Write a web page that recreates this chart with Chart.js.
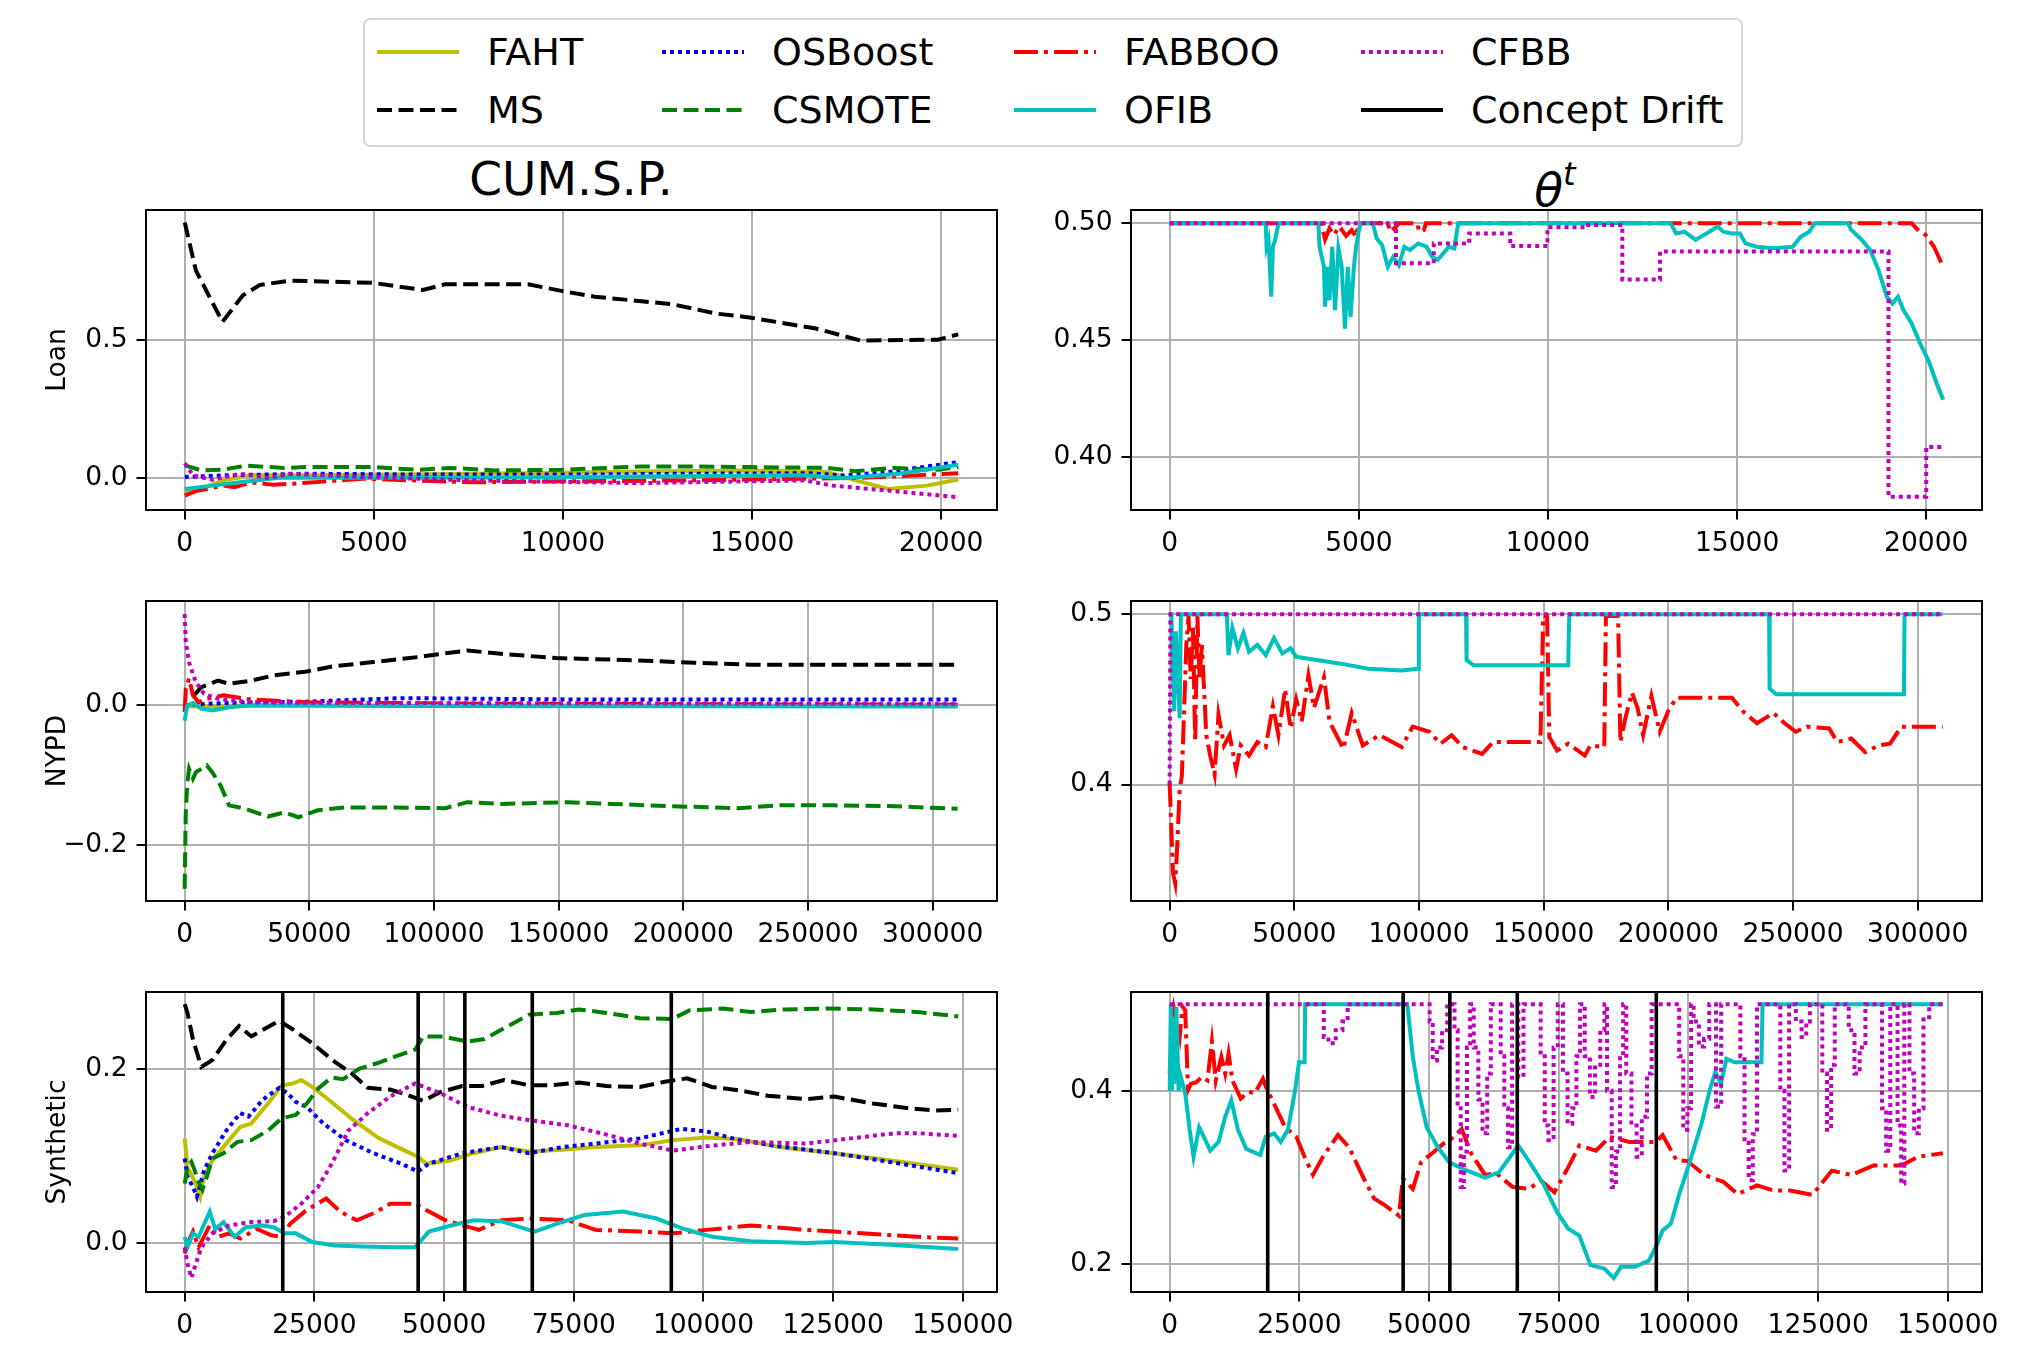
<!DOCTYPE html>
<html>
<head>
<meta charset="utf-8">
<script src="https://cdn.jsdelivr.net/npm/chart.js"></script>
<style>
  body { margin: 0; background: #fff; width: 2020px; height: 1359px; position: relative; overflow: hidden;
         font-family: "DejaVu Sans", sans-serif; }
  canvas { position: absolute; }
  .legend { position: absolute; left: 363px; top: 18px; width: 1376px; height: 125px;
            border: 2px solid #d6d6d6; border-radius: 7px; }
  .item { position: absolute; height: 40px; font-size: 38px; line-height: 40px; white-space: nowrap; }
  .item svg { position: absolute; left: 0; top: 15px; }
  .item span { position: absolute; }
  .title { position: absolute; top: 155px; font-size: 47px; line-height: 47px; white-space: nowrap;
           transform: translateX(-50%); }
</style>
</head>
<body>
<div class="legend" id="legend"></div>
<div class="title" style="left:571px">CUM.S.P.</div>
<div class="title" style="left:1555px"><i>θ</i><sup style="font-size:32px;position:relative;top:-4px"><i>t</i></sup></div>
<canvas id="c1"></canvas>
<canvas id="c2"></canvas>
<canvas id="c3"></canvas>
<canvas id="c4"></canvas>
<canvas id="c5"></canvas>
<canvas id="c6"></canvas>
<script>
// ---- tick labels ----
const loanTicksX = [0, 5000, 10000, 15000, 20000];
const nypdTicksX = [0, 50000, 100000, 150000, 200000, 250000, 300000];
const synthTicksX = [0, 25000, 50000, 75000, 100000, 125000, 150000];
const loanCumTicksY = [0.0, 0.5];
const loanThTicksY = [0.40, 0.45, 0.50];
const nypdCumTicksY = [-0.2, 0.0];
const nypdThTicksY = [0.4, 0.5];
const synthCumTicksY = [0.0, 0.2];
const synthThTicksY = [0.2, 0.4];

const driftPoints = [18900, 45000, 54000, 67000, 93800];

// ---- Loan, CUM.S.P. ----
const loanCumFAHT = [[0,-0.05],[293,-0.045],[1025,-0.008],[1757,0.01],[3221,0.01],[7613,0.016],[9077,0.018],[12006,0.024],[14934,0.028],[16983,0.022],[17569,-0.002],[18594,-0.039],[19619,-0.027],[20450,-0.005]];
const loanCumMS = [[0,0.923],[293,0.75],[996,0.564],[1537,0.66],[1977,0.697],[2782,0.713],[4978,0.705],[6296,0.679],[6881,0.70],[9077,0.70],[9956,0.676],[10834,0.655],[12884,0.628],[14055,0.594],[14934,0.58],[16691,0.54],[17862,0.497],[19912,0.5],[20450,0.519]];
const loanCumOSBoost = [[0,0.004],[1025,0.01],[3221,0.016],[6149,0.013],[10542,0.013],[13470,0.016],[16398,0.018],[17423,0.01],[18594,0.022],[19619,0.042],[20450,0.058]];
const loanCumCSMOTE = [[0,0.046],[439,0.028],[1025,0.031],[1610,0.045],[2635,0.037],[3221,0.04],[4978,0.04],[6149,0.03],[7028,0.037],[8199,0.028],[9956,0.03],[12006,0.042],[13470,0.042],[14934,0.04],[16983,0.037],[17716,0.025],[18740,0.037],[19912,0.03],[20450,0.04]];
const loanCumFABBOO = [[0,-0.063],[293,-0.047],[1025,-0.027],[1318,-0.033],[1757,-0.015],[2343,-0.024],[3221,-0.017],[4685,-0.002],[7613,-0.015],[10542,-0.011],[13470,-0.008],[16398,-0.002],[17862,0.001],[19326,0.01],[20450,0.018]];
const loanCumOFIB = [[0,-0.039],[732,-0.027],[1464,-0.015],[2489,0.001],[7613,0.001],[12006,0.006],[16398,0.01],[17423,0.0],[18887,0.016],[20450,0.048]];
const loanCumCFBB = [[0,0.054],[220,0.01],[732,-0.006],[1464,0.016],[2196,0.001],[2782,0.016],[4685,0.004],[7613,-0.008],[12006,-0.018],[16398,-0.008],[17130,-0.027],[18594,-0.045],[20450,-0.069]];

// ---- Loan, theta ----
const loanThFABBOO = [[0,0.5],[4003,0.5],[4106,0.4931],[4223,0.4979],[4340,0.495],[4487,0.4986],[4663,0.4946],[4809,0.4971],[4927,0.4943],[4985,0.5],[5763,0.5],[5836,0.4964],[5982,0.4986],[6056,0.5],[6540,0.5],[6598,0.4964],[6716,0.4971],[6774,0.5],[19619,0.5],[19766,0.4974],[19986,0.495],[20205,0.49],[20450,0.4814]];
const loanThOFIB = [[0,0.5],[2537,0.5],[2560,0.49],[2610,0.4929],[2683,0.4686],[2727,0.49],[2786,0.4929],[2874,0.5],[3930,0.5],[3959,0.49],[4076,0.4814],[4106,0.4643],[4164,0.4814],[4223,0.4671],[4296,0.49],[4370,0.4629],[4458,0.4893],[4546,0.4814],[4633,0.455],[4707,0.4814],[4780,0.46],[4868,0.4814],[4927,0.49],[4985,0.4957],[5044,0.5],[5367,0.5],[5469,0.4936],[5616,0.4907],[5763,0.4814],[5909,0.4857],[6056,0.4821],[6202,0.49],[6349,0.4886],[6569,0.4914],[6789,0.49],[6936,0.4857],[7082,0.4843],[7229,0.4871],[7376,0.49],[7522,0.4893],[7625,0.5],[13241,0.5],[13387,0.4957],[13607,0.4964],[13901,0.4929],[14194,0.4957],[14487,0.4986],[14634,0.4964],[14854,0.4957],[15074,0.4957],[15220,0.4914],[15514,0.49],[15953,0.4893],[16466,0.49],[16687,0.4943],[16907,0.4964],[17053,0.5],[17933,0.5],[18007,0.4974],[18299,0.4929],[18519,0.4886],[18739,0.48],[18959,0.4686],[19106,0.4657],[19253,0.4686],[19399,0.4629],[19619,0.4571],[19839,0.4486],[20059,0.4414],[20279,0.4314],[20450,0.4245]];
const loanThCFBB = [[0,0.5],[5982,0.4829],[6980,0.4914],[7918,0.4957],[9003,0.4903],[9985,0.4983],[10997,0.4993],[11965,0.476],[12962,0.4879],[19003,0.3831],[20000,0.4043],[20450,0.4043]];

// ---- NYPD, CUM.S.P. ----
const nypdCumFAHT = [[0,-0.002],[20000,-0.001],[310000,0.0]];
const nypdCumMS = [[4000,0.015],[6672,0.0257],[11120,0.0319],[13344,0.035],[17792,0.0305],[26688,0.035],[35584,0.0424],[48928,0.048],[60048,0.0557],[75616,0.0614],[93408,0.0685],[100080,0.0719],[113424,0.078],[126768,0.0733],[149008,0.0671],[182400,0.0638],[204608,0.0605],[226848,0.0576],[310000,0.0576]];
const nypdCumOSBoost = [[0,0.0],[15568,0.003],[48928,0.005],[86736,0.01],[160128,0.008],[310000,0.008]];
const nypdCumCSMOTE = [[0,-0.262],[445,-0.153],[1112,-0.11],[1779,-0.091],[3336,-0.105],[4448,-0.096],[6672,-0.091],[8896,-0.086],[11120,-0.096],[14456,-0.115],[17792,-0.143],[24464,-0.148],[33360,-0.159],[40032,-0.153],[45592,-0.16],[53376,-0.15],[64496,-0.146],[82288,-0.146],[104528,-0.147],[113424,-0.1385],[126768,-0.141],[153456,-0.1385],[171248,-0.141],[193488,-0.144],[222400,-0.147],[237968,-0.143],[260208,-0.143],[282448,-0.144],[310000,-0.148]];
const nypdCumFABBOO = [[0,-0.01],[445,0.023],[1779,0.038],[3336,0.014],[5560,0.004],[8896,0.009],[15568,0.014],[26688,0.008],[48928,0.004],[115648,0.002],[310000,0.0005]];
const nypdCumOFIB = [[0,-0.022],[1112,0.0],[3336,0.003],[6672,-0.005],[11120,-0.0076],[17792,-0.003],[26688,0.0],[93408,-0.0014],[310000,-0.002]];
const nypdCumCFBB = [[0,0.130],[445,0.09],[1779,0.061],[4448,0.033],[7784,0.016],[13344,0.009],[26688,0.004],[71168,0.003],[310000,0.002]];

// ---- NYPD, theta ----
const nypdThFABBOO = [[0,0.401],[668,0.374],[1336,0.348],[2226,0.342],[3116,0.366],[4007,0.397],[4897,0.405],[5787,0.443],[6678,0.482],[7568,0.499],[8459,0.462],[9349,0.492],[10240,0.425],[11130,0.499],[12020,0.462],[12911,0.482],[13801,0.456],[14692,0.429],[16250,0.417],[18031,0.406],[19589,0.441],[21815,0.423],[24041,0.429],[26668,0.409],[28494,0.423],[31833,0.417],[35173,0.425],[38512,0.422],[41406,0.446],[43632,0.429],[46303,0.456],[48529,0.433],[50755,0.45],[52982,0.437],[55653,0.464],[57879,0.445],[61886,0.463],[64112,0.437],[69677,0.421],[73015,0.442],[77469,0.423],[84147,0.429],[93050,0.422],[97502,0.434],[104180,0.431],[108632,0.424],[113084,0.429],[117536,0.422],[125327,0.418],[129779,0.425],[148699,0.425],[149812,0.499],[151370,0.499],[152260,0.428],[155376,0.42],[159828,0.424],[166506,0.417],[168732,0.423],[174298,0.422],[174966,0.499],[179863,0.499],[180753,0.425],[182757,0.439],[185428,0.454],[187654,0.445],[189880,0.429],[193219,0.452],[196558,0.431],[199898,0.443],[203237,0.451],[225497,0.451],[229949,0.443],[235514,0.436],[242192,0.442],[246644,0.436],[251096,0.431],[255548,0.434],[264452,0.433],[267791,0.425],[273356,0.427],[278921,0.419],[284486,0.423],[288938,0.424],[293390,0.434],[310000,0.434]];
const nypdThOFIB = [[0,0.5],[700,0.5],[1781,0.443],[2500,0.49],[4007,0.439],[4500,0.5],[22928,0.5],[23596,0.476],[25154,0.492],[27380,0.48],[29606,0.489],[31832,0.478],[35173,0.482],[38512,0.476],[41852,0.486],[45191,0.477],[48529,0.48],[50755,0.475],[59657,0.473],[68561,0.471],[79691,0.468],[93047,0.467],[99725,0.468],[99948,0.5],[118868,0.5],[119091,0.473],[121985,0.47],[159827,0.47],[160272,0.5],[240408,0.5],[240631,0.4563],[243302,0.453],[294500,0.453],[294723,0.5],[310000,0.5]];
const nypdThCFBB = [[0,0.4],[300,0.5],[310000,0.5]];

// ---- Synthetic, CUM.S.P. ----
const synthCumFAHT = [[0,0.12],[535,0.087],[2140,0.068],[2996,0.053],[3745,0.076],[5350,0.095],[8560,0.118],[10700,0.133],[12840,0.137],[16050,0.16],[18725,0.181],[20865,0.183],[22470,0.187],[24610,0.179],[27820,0.164],[32100,0.143],[37450,0.12],[41730,0.108],[44940,0.099],[46545,0.091],[51360,0.095],[55640,0.103],[60990,0.11],[66340,0.105],[72760,0.107],[79180,0.11],[87740,0.112],[94160,0.118],[100580,0.121],[107000,0.119],[114490,0.11],[125190,0.103],[135890,0.095],[149100,0.084]];
const synthCumMS = [[0,0.274],[535,0.264],[1605,0.233],[3210,0.202],[5350,0.21],[8025,0.233],[10486,0.249],[12840,0.237],[15515,0.246],[18190,0.255],[20865,0.245],[24610,0.229],[28890,0.208],[32100,0.195],[35310,0.178],[39590,0.176],[42800,0.17],[46010,0.163],[49220,0.173],[53500,0.18],[57245,0.18],[61525,0.187],[66340,0.181],[70620,0.181],[75970,0.184],[81320,0.18],[87740,0.179],[92555,0.185],[96835,0.189],[101650,0.179],[107000,0.175],[112350,0.169],[119840,0.165],[125190,0.168],[132680,0.16],[139100,0.155],[144450,0.152],[149100,0.153]];
const synthCumOSBoost = [[0,0.097],[535,0.076],[1605,0.064],[2354,0.053],[3745,0.083],[5350,0.103],[8025,0.129],[10700,0.149],[12305,0.145],[14980,0.164],[18190,0.178],[19795,0.172],[21400,0.162],[23540,0.156],[26750,0.137],[31030,0.118],[36380,0.103],[41730,0.091],[44940,0.082],[47080,0.091],[53500,0.103],[60990,0.11],[66340,0.103],[72760,0.11],[79180,0.114],[87740,0.12],[95765,0.131],[100580,0.128],[107000,0.118],[114490,0.111],[125190,0.103],[135890,0.093],[149100,0.08]];
const synthCumCSMOTE = [[0,0.068],[535,0.087],[1284,0.093],[1819,0.085],[2675,0.07],[3424,0.061],[4280,0.076],[5350,0.097],[7490,0.103],[10165,0.116],[12840,0.118],[16050,0.129],[18725,0.143],[21400,0.147],[23540,0.16],[25680,0.177],[28355,0.19],[30495,0.188],[33705,0.2],[37450,0.207],[40660,0.214],[44405,0.222],[46010,0.237],[49755,0.237],[54570,0.231],[57780,0.234],[62060,0.248],[66340,0.262],[71690,0.264],[75970,0.268],[81320,0.264],[87740,0.258],[93946,0.257],[97370,0.267],[103790,0.269],[109140,0.265],[115560,0.268],[124120,0.269],[132680,0.268],[141240,0.265],[149100,0.26]];
const synthCumFABBOO = [[0,-0.012],[535,-0.001],[1605,0.013],[2675,-0.005],[4815,0.02],[6420,0.007],[8560,0.011],[10700,0.005],[13910,0.016],[16585,0.009],[18725,0.007],[20330,0.022],[23540,0.038],[27285,0.051],[29960,0.036],[33170,0.026],[36380,0.034],[39590,0.045],[44405,0.045],[47080,0.036],[50290,0.026],[56710,0.015],[60990,0.026],[66340,0.028],[73830,0.026],[79180,0.015],[87740,0.013],[94160,0.011],[100580,0.015],[109140,0.02],[119840,0.015],[130540,0.011],[141240,0.007],[149100,0.005]];
const synthCumOFIB = [[0,0.007],[535,-0.005],[1605,0.011],[2675,0.007],[4815,0.036],[5885,0.016],[7490,0.024],[9630,0.007],[11770,0.018],[14980,0.02],[17120,0.018],[19260,0.011],[21400,0.011],[24610,0.001],[28890,-0.003],[34240,-0.004],[40660,-0.005],[44405,-0.005],[47080,0.013],[51360,0.02],[55640,0.026],[60990,0.025],[67410,0.013],[71690,0.022],[77040,0.032],[84530,0.036],[90950,0.028],[96300,0.016],[101650,0.007],[109140,0.002],[119840,0.0],[125190,0.001],[135890,-0.002],[149100,-0.007]];
const synthCumCFBB = [[0,-0.005],[535,-0.024],[1284,-0.04],[1926,-0.028],[3210,-0.005],[5350,0.011],[8560,0.02],[12840,0.024],[17120,0.025],[19260,0.03],[22470,0.045],[25680,0.064],[28355,0.091],[31565,0.129],[35310,0.149],[39590,0.168],[44405,0.183],[49220,0.172],[54570,0.156],[60990,0.146],[66340,0.141],[73830,0.135],[80250,0.126],[87740,0.114],[94160,0.106],[100580,0.111],[109140,0.116],[119840,0.114],[128400,0.12],[136960,0.126],[141240,0.126],[149100,0.123]];

// ---- Synthetic, theta ----
const synthThFABBOO = [[0,0.42],[856,0.493],[1926,0.462],[2461,0.497],[2996,0.493],[3531,0.401],[4066,0.408],[5136,0.41],[6206,0.416],[7276,0.412],[8132,0.457],[8881,0.412],[9951,0.439],[10700,0.42],[11342,0.443],[12091,0.412],[13696,0.391],[15301,0.399],[16371,0.397],[17976,0.414],[18511,0.405],[20116,0.385],[22256,0.358],[24396,0.347],[26001,0.324],[27606,0.303],[29746,0.326],[32421,0.349],[34561,0.335],[37236,0.301],[39376,0.276],[41516,0.268],[44191,0.256],[44940,0.299],[46866,0.287],[48471,0.318],[50611,0.328],[52751,0.339],[54356,0.345],[56282,0.356],[58101,0.328],[60776,0.303],[62916,0.305],[66126,0.289],[69336,0.287],[71476,0.297],[74151,0.283],[76826,0.312],[78966,0.337],[82176,0.331],[84851,0.347],[88596,0.341],[93732,0.341],[95016,0.349],[97691,0.32],[99831,0.319],[103041,0.303],[106786,0.295],[109461,0.281],[113206,0.291],[116416,0.285],[119626,0.285],[123906,0.28],[127651,0.308],[131396,0.303],[135676,0.314],[141026,0.314],[144236,0.324],[149051,0.328]];
const synthThOFIB = [[0,0.4],[214,0.5],[428,0.4],[642,0.485],[856,0.408],[1284,0.497],[1712,0.4],[2140,0.416],[2996,0.397],[3852,0.355],[4601,0.324],[5671,0.358],[6741,0.345],[7811,0.331],[9416,0.341],[10700,0.37],[11877,0.389],[13161,0.355],[14766,0.333],[17441,0.326],[18511,0.347],[20116,0.351],[21400,0.341],[22791,0.355],[24182,0.401],[24931,0.433],[26001,0.433],[26108,0.5],[45796,0.5],[46866,0.439],[47936,0.401],[49541,0.358],[51681,0.335],[53821,0.318],[56496,0.31],[60776,0.3],[63451,0.306],[66126,0.328],[67196,0.337],[69336,0.318],[72011,0.293],[74686,0.26],[76826,0.241],[78966,0.233],[81106,0.199],[83781,0.195],[85600,0.184],[86991,0.197],[89666,0.197],[92341,0.204],[93732,0.22],[95016,0.239],[96621,0.247],[98226,0.281],[100366,0.32],[102506,0.362],[104111,0.401],[105181,0.422],[106251,0.408],[107321,0.437],[108926,0.433],[114062,0.433],[114276,0.5],[149100,0.5]];
const synthThCFBB = [[0,0.5],
  [29700,0.462],[30600,0.455],[32000,0.47],[33300,0.48],[34300,0.5],
  [50100,0.48],[50700,0.435],[51500,0.45],[52500,0.47],[53500,0.5],
  [54900,0.47],[55500,0.38],[56100,0.289],[56700,0.33],[57300,0.45],[57900,0.5],
  [58600,0.45],[59500,0.39],[60300,0.351],[61200,0.42],[61900,0.5],
  [63800,0.44],[64500,0.38],[65200,0.335],[66000,0.5],
  [67200,0.416],[68200,0.5],
  [71500,0.44],[72300,0.36],[73000,0.343],[74000,0.45],[74800,0.5],
  [75800,0.42],[76700,0.362],[77600,0.38],[78400,0.44],[79100,0.5],
  [80000,0.44],[81000,0.393],[82000,0.43],[83000,0.47],[83800,0.5],
  [84300,0.4],[85200,0.289],[86000,0.33],[86800,0.44],[87400,0.5],
  [88000,0.42],[89000,0.36],[90000,0.324],[91000,0.37],[92000,0.42],[92900,0.5],
  [98200,0.44],[99000,0.355],[99800,0.38],[100500,0.5],
  [101000,0.48],[102000,0.451],[103000,0.46],[104000,0.5],
  [105300,0.382],[106300,0.5],
  [110000,0.44],[110800,0.34],[111600,0.297],[112400,0.35],[113200,0.5],
  [117700,0.4],[118500,0.308],[119400,0.5],
  [120700,0.48],[121800,0.462],[122700,0.48],[123400,0.5],
  [125800,0.42],[126700,0.355],[127500,0.43],[128200,0.5],
  [130900,0.47],[132000,0.42],[133000,0.45],[134100,0.5],
  [137300,0.38],[138100,0.331],[138900,0.5],
  [140300,0.36],[141000,0.293],[141600,0.5],
  [142600,0.42],[143500,0.351],[144400,0.38],[145300,0.485],[146400,0.5],
  [149100,0.5]];

// ---- styles (matplotlib single letter colours) ----
const styles = {
  'FAHT':          { color: '#bfbf00', dash: [] },
  'MS':            { color: '#000000', dash: [15, 6.5] },
  'OSBoost':       { color: '#0000ff', dash: [4, 4] },
  'CSMOTE':        { color: '#008000', dash: [15, 6.5] },
  'FABBOO':        { color: '#ff0000', dash: [24, 6, 4, 6] },
  'OFIB':          { color: '#00bfbf', dash: [] },
  'CFBB':          { color: '#bf00bf', dash: [4, 4] },
  'Concept Drift': { color: '#000000', dash: [] }
};
const legendOrder = [['FAHT', 'OSBoost', 'FABBOO', 'CFBB'], ['MS', 'CSMOTE', 'OFIB', 'Concept Drift']];

// legend
const legendCols = [12, 297, 649, 996];
const legendEl = document.getElementById('legend');
legendOrder.forEach(function(row, r) {
  row.forEach(function(name, c) {
    const st = styles[name];
    const it = document.createElement('div');
    it.className = 'item';
    it.style.left = legendCols[c] + 'px';
    it.style.top = (12 + r * 57.5) + 'px';
    it.innerHTML = '<svg width="82" height="10"><line x1="0" y1="5" x2="82" y2="5" stroke="' + st.color +
      '" stroke-width="3.8" stroke-dasharray="' + (st.dash.length ? st.dash.join(' ') : 'none') + '"/></svg>' +
      '<span style="left:110px">' + name + '</span>';
    legendEl.appendChild(it);
  });
});

const frame = {
  id: 'frame',
  afterDatasetsDraw(chart) {
    const a = chart.chartArea, ctx = chart.ctx;
    ctx.save();
    ctx.strokeStyle = '#000';
    ctx.lineWidth = 2;
    ctx.strokeRect(a.left, a.top, a.right - a.left, a.bottom - a.top);
    ctx.restore();
  }
};

function toXY(arr) {
  return arr.map(function(p) { return { x: p[0], y: p[1] }; });
}

function driftData(ymin, ymax) {
  const out = [];
  driftPoints.forEach(function(x) {
    out.push({ x: x, y: ymin - 1 }, { x: x, y: ymax + 1 }, { x: x, y: null });
  });
  return out;
}

const Y_W = 108, PAD_T = 25, PAD_R = 45, X_H = 55, PLOT_H = 300;
const fontSpec = { family: 'DejaVu Sans', size: 26.5 };

function makeChart(id, left, top, plotW, xr, yr, xTicks, yTicks, yDec, yTitle, series, drift) {
  const cv = document.getElementById(id);
  const w = Y_W + plotW + PAD_R, h = PAD_T + PLOT_H + X_H;
  cv.width = w; cv.height = h;
  cv.style.width = w + 'px'; cv.style.height = h + 'px';
  cv.style.left = (left - Y_W) + 'px';
  cv.style.top = (top - PAD_T) + 'px';

  const datasets = series.map(function(s, i) {
    const st = styles[s[0]];
    return {
      label: s[0], data: toXY(s[1]), borderColor: st.color, borderDash: st.dash,
      borderWidth: 4, pointRadius: 0, tension: 0, fill: false,
      stepped: s[2] ? 'before' : false, order: -i
    };
  });
  if (drift) {
    datasets.push({ label: 'Concept Drift', data: driftData(yr[0], yr[1]), borderColor: '#000',
      borderWidth: 3.6, pointRadius: 0, spanGaps: false, order: -99 });
  }

  new Chart(cv, {
    type: 'line',
    data: { datasets: datasets },
    plugins: [frame],
    options: {
      responsive: false, animation: false, devicePixelRatio: 1, events: [],
      layout: { padding: { top: PAD_T, right: PAD_R, left: 0, bottom: 0 } },
      plugins: { legend: { display: false }, tooltip: { enabled: false } },
      scales: {
        x: {
          type: 'linear', min: xr[0], max: xr[1],
          afterBuildTicks: function(s) { s.ticks = xTicks.map(function(v) { return { value: v }; }); },
          afterFit: function(s) { s.height = X_H; },
          ticks: { autoSkip: false, maxRotation: 0, padding: 9, color: '#000', font: fontSpec,
                   callback: function(v) { return String(v); } },
          grid: { color: '#b0b0b0', lineWidth: 2, tickColor: '#000', tickLength: 9.5, tickWidth: 2 },
          border: { display: false }
        },
        y: {
          min: yr[0], max: yr[1],
          afterBuildTicks: function(s) { s.ticks = yTicks.map(function(v) { return { value: v }; }); },
          afterFit: function(s) { s.width = Y_W; },
          ticks: { padding: 9, color: '#000', font: fontSpec,
                   callback: function(v) { return v.toFixed(yDec).replace('-', '\u2212'); } },
          grid: { color: '#b0b0b0', lineWidth: 2, tickColor: '#000', tickLength: 9.5, tickWidth: 2 },
          border: { display: false },
          title: { display: !!yTitle, text: yTitle, color: '#000', font: fontSpec, padding: { top: 4, bottom: 0 } }
        }
      }
    }
  });
}

const LX = 146, RX = 1131, LW = 851, RW = 851;
const rowTop = [210, 601, 992];
const loanRangeX = [-1025, 21475], nypdRangeX = [-15500, 325800], synthRangeX = [-7460, 156580];

makeChart('c1', LX, rowTop[0], LW, loanRangeX, [-0.115, 0.968], loanTicksX, loanCumTicksY, 1, 'Loan',
  [['FAHT', loanCumFAHT], ['MS', loanCumMS], ['OSBoost', loanCumOSBoost], ['CSMOTE', loanCumCSMOTE],
   ['FABBOO', loanCumFABBOO], ['OFIB', loanCumOFIB], ['CFBB', loanCumCFBB]], false);
makeChart('c2', RX, rowTop[0], RW, loanRangeX, [0.3774, 0.5057], loanTicksX, loanThTicksY, 2, '',
  [['FABBOO', loanThFABBOO], ['OFIB', loanThOFIB], ['CFBB', loanThCFBB, true]], false);
makeChart('c3', LX, rowTop[1], LW, nypdRangeX, [-0.2795, 0.1486], nypdTicksX, nypdCumTicksY, 1, 'NYPD',
  [['FAHT', nypdCumFAHT], ['MS', nypdCumMS], ['OSBoost', nypdCumOSBoost], ['CSMOTE', nypdCumCSMOTE],
   ['FABBOO', nypdCumFABBOO], ['OFIB', nypdCumOFIB], ['CFBB', nypdCumCFBB]], false);
makeChart('c4', RX, rowTop[1], RW, nypdRangeX, [0.3316, 0.5078], nypdTicksX, nypdThTicksY, 1, '',
  [['FABBOO', nypdThFABBOO], ['OFIB', nypdThOFIB], ['CFBB', nypdThCFBB]], false);
makeChart('c5', LX, rowTop[2], LW, synthRangeX, [-0.0563, 0.288], synthTicksX, synthCumTicksY, 1, 'Synthetic',
  [['FAHT', synthCumFAHT], ['MS', synthCumMS], ['OSBoost', synthCumOSBoost], ['CSMOTE', synthCumCSMOTE],
   ['FABBOO', synthCumFABBOO], ['OFIB', synthCumOFIB], ['CFBB', synthCumCFBB]], true);
makeChart('c6', RX, rowTop[2], RW, synthRangeX, [0.168, 0.514], synthTicksX, synthThTicksY, 1, '',
  [['FABBOO', synthThFABBOO], ['OFIB', synthThOFIB], ['CFBB', synthThCFBB, true]], true);
</script>
</body>
</html>
